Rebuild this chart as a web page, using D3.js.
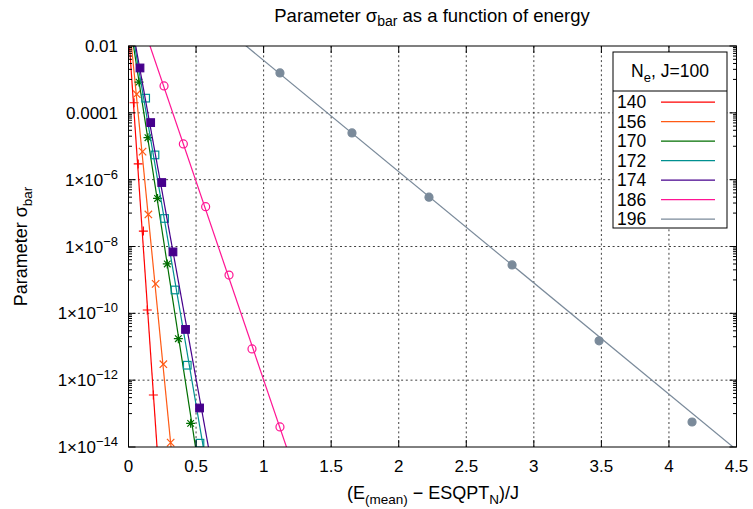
<!DOCTYPE html>
<html>
<head>
<meta charset="utf-8">
<script src="https://cdn.jsdelivr.net/npm/d3@7"></script>
<style>
  body { margin: 0; background: #fff; }
  text { font-family: "Liberation Sans", Arial, Helvetica, sans-serif; fill: #000; }
</style>
</head>
<body>
<svg id="chart" width="753" height="509"></svg>
<script>
// Series: number of bosons N_e (J = 100)
const seriesLabels = ["140", "156", "170", "172", "174", "186", "196"];
const seriesColors = ["#ff0000", "#ff5a14", "#006e00", "#009090", "#46008c", "#ff1493", "#7a8a9a"];
const seriesMarkers = ["plus", "cross", "star", "square", "squareFilled", "circle", "circleFilled"];

// (E_mean - ESQPT_N)/J and sigma_bar for each series
const energy140 = [0.041, 0.072, 0.110, 0.139, 0.184];
const sigma140  = [2.0e-4, 2.95e-6, 2.9e-8, 1.26e-10, 3.6e-13];
const energy156 = [0.061, 0.104, 0.147, 0.201, 0.258, 0.312];
const sigma156  = [3.6e-4, 6.9e-6, 9.1e-8, 7.6e-10, 3.0e-12, 1.35e-14];
const energy170 = [0.078, 0.144, 0.215, 0.287, 0.369, 0.460];
const sigma170  = [8.3e-4, 1.8e-5, 2.75e-7, 3.0e-9, 1.74e-11, 5.1e-14];
const energy172 = [0.127, 0.196, 0.267, 0.344, 0.435, 0.529];
const sigma172  = [2.75e-4, 5.5e-6, 6.9e-8, 5.0e-10, 2.8e-12, 1.3e-14];
const energy174 = [0.085, 0.164, 0.246, 0.329, 0.422, 0.526];
const sigma174  = [2.2e-3, 5.1e-5, 8.2e-7, 6.9e-9, 3.3e-11, 1.47e-13];
const energy186 = [0.263, 0.406, 0.571, 0.744, 0.914, 1.121];
const sigma186  = [6.4e-4, 1.17e-5, 1.55e-7, 1.4e-9, 8.6e-12, 4.0e-14];
const energy196 = [1.121, 1.654, 2.224, 2.839, 3.483, 4.171];
const sigma196  = [1.56e-3, 2.5e-5, 3.0e-7, 2.8e-9, 1.5e-11, 5.6e-14];

// Exponential fits: log10(sigma) = intercept + slope * energy
const fitIntercept = [-1.56, -1.09, -1.03, -0.91, -0.81, -0.11, 0.90];
const fitSlope     = [-58.95, -41.0, -26.15, -23.65, -22.3, -11.88, -3.33];

// Axis ticks
const xTickValues = [0, 0.5, 1, 1.5, 2, 2.5, 3, 3.5, 4, 4.5];
const xTickLabels = ["0", "0.5", "1", "1.5", "2", "2.5", "3", "3.5", "4", "4.5"];
const yTickExponents = [-2, -4, -6, -8, -10, -12, -14];
const yTickPlain = {"-2": "0.01", "-4": "0.0001"};

const energySets = [energy140, energy156, energy170, energy172, energy174, energy186, energy196];
const sigmaSets  = [sigma140, sigma156, sigma170, sigma172, sigma174, sigma186, sigma196];

const svg = d3.select("#chart");
const plotLeft = 128.5, plotRight = 736.5, plotTop = 46, plotBottom = 447;

const x = d3.scaleLinear().domain([0, 4.5]).range([plotLeft, plotRight]);
const y = d3.scaleLog().domain([1e-14, 1e-2]).range([plotBottom, plotTop]);

// clip region for the plotted data
svg.append("defs").append("clipPath").attr("id", "plotArea")
  .append("rect").attr("x", plotLeft).attr("y", plotTop)
  .attr("width", plotRight - plotLeft).attr("height", plotBottom - plotTop);

// dotted grid at major ticks
const grid = svg.append("g").attr("stroke", "#000").attr("stroke-width", 1)
  .attr("stroke-dasharray", "2,2.7").attr("stroke-opacity", 0.75);
xTickValues.slice(1, -1).forEach(v => {
  grid.append("line").attr("x1", x(v)).attr("x2", x(v)).attr("y1", plotTop).attr("y2", plotBottom);
});
yTickExponents.slice(1, -1).forEach(e => {
  grid.append("line").attr("x1", plotLeft).attr("x2", plotRight)
    .attr("y1", y(Math.pow(10, e))).attr("y2", y(Math.pow(10, e)));
});

// fitted lines and data points
const plot = svg.append("g").attr("clip-path", "url(#plotArea)");
const line = d3.line().x(d => x(d[0])).y(d => y(d[1]));

function marker(g, type, cx, cy, color) {
  const s = 4.5;
  if (type === "plus") {
    g.append("path").attr("d", `M${cx - s},${cy}H${cx + s}M${cx},${cy - s}V${cy + s}`)
      .attr("stroke", color).attr("stroke-width", 1.2).attr("fill", "none");
  } else if (type === "cross") {
    const c = 3.7;
    g.append("path").attr("d", `M${cx - c},${cy - c}L${cx + c},${cy + c}M${cx - c},${cy + c}L${cx + c},${cy - c}`)
      .attr("stroke", color).attr("stroke-width", 1.2).attr("fill", "none");
  } else if (type === "star") {
    const c = 3.3;
    g.append("path").attr("d", `M${cx - s},${cy}H${cx + s}M${cx},${cy - s}V${cy + s}M${cx - c},${cy - c}L${cx + c},${cy + c}M${cx - c},${cy + c}L${cx + c},${cy - c}`)
      .attr("stroke", color).attr("stroke-width", 1.2).attr("fill", "none");
  } else if (type === "square" || type === "squareFilled") {
    const h = 3.8;
    g.append("rect").attr("x", cx - h).attr("y", cy - h).attr("width", 2 * h).attr("height", 2 * h)
      .attr("stroke", color).attr("stroke-width", 1.2)
      .attr("fill", type === "squareFilled" ? color : "none");
  } else {
    g.append("circle").attr("cx", cx).attr("cy", cy).attr("r", 4)
      .attr("stroke", color).attr("stroke-width", 1.2)
      .attr("fill", type === "circleFilled" ? color : "none");
  }
}

seriesLabels.forEach((lab, i) => {
  const a = fitIntercept[i], b = fitSlope[i];
  const fitPts = x.domain().map(e => [e, Math.pow(10, a + b * e)]);
  plot.append("path").attr("d", line(fitPts)).attr("fill", "none")
    .attr("stroke", seriesColors[i]).attr("stroke-width", 1.2);
  energySets[i].forEach((e, k) => {
    marker(plot, seriesMarkers[i], x(e), y(sigmaSets[i][k]), seriesColors[i]);
  });
});

// axes frame with inward ticks on all sides
const frame = svg.append("g").attr("stroke", "#000").attr("stroke-width", 1).attr("fill", "none");
frame.append("rect").attr("x", plotLeft).attr("y", plotTop)
  .attr("width", plotRight - plotLeft).attr("height", plotBottom - plotTop);
xTickValues.forEach(v => {
  frame.append("line").attr("x1", x(v)).attr("x2", x(v)).attr("y1", plotBottom).attr("y2", plotBottom - 7);
  frame.append("line").attr("x1", x(v)).attr("x2", x(v)).attr("y1", plotTop).attr("y2", plotTop + 7);
});
yTickExponents.forEach(e => {
  const yy = y(Math.pow(10, e));
  frame.append("line").attr("x1", plotLeft).attr("x2", plotLeft + 7).attr("y1", yy).attr("y2", yy);
  frame.append("line").attr("x1", plotRight).attr("x2", plotRight - 7).attr("y1", yy).attr("y2", yy);
  if (e > -14) {
    for (let k = 1; k <= 9; k++) {
      const ym = y(k * Math.pow(10, e - 1));
      frame.append("line").attr("x1", plotLeft).attr("x2", plotLeft + 3.5).attr("y1", ym).attr("y2", ym);
      frame.append("line").attr("x1", plotRight).attr("x2", plotRight - 3.5).attr("y1", ym).attr("y2", ym);
    }
  }
});

// x tick labels
svg.append("g").selectAll("text").data(xTickValues).join("text")
  .attr("x", d => x(d)).attr("y", 472).attr("text-anchor", "middle")
  .attr("font-size", 17).text((d, i) => xTickLabels[i]);

// y tick labels with exponents
yTickExponents.forEach(e => {
  const t = svg.append("text").attr("x", 118).attr("y", y(Math.pow(10, e)) + 6)
    .attr("text-anchor", "end").attr("font-size", 17);
  if (yTickPlain[e]) {
    t.text(yTickPlain[e]);
  } else {
    t.append("tspan").text("1×10");
    t.append("tspan").attr("dy", -7).attr("font-size", 13).text("−" + Math.abs(e));
  }
});

// title
const title = svg.append("text").attr("x", 432).attr("y", 22).attr("text-anchor", "middle").attr("font-size", 18.5);
title.append("tspan").text("Parameter σ");
title.append("tspan").attr("dy", 4).attr("font-size", 14).text("bar");
title.append("tspan").attr("dy", -4).text(" as a function of energy");

// x axis label
const xl = svg.append("text").attr("x", 433).attr("y", 499).attr("text-anchor", "middle").attr("font-size", 18);
xl.append("tspan").text("(E");
xl.append("tspan").attr("dy", 5).attr("font-size", 13.5).text("(mean)");
xl.append("tspan").attr("dy", -5).text(" − ESQPT");
xl.append("tspan").attr("dy", 5).attr("font-size", 13.5).text("N");
xl.append("tspan").attr("dy", -5).text(")/J");

// y axis label
const yl = svg.append("text").attr("transform", `translate(27,${(plotTop + plotBottom) / 2}) rotate(-90)`)
  .attr("text-anchor", "middle").attr("font-size", 18);
yl.append("tspan").text("Parameter σ");
yl.append("tspan").attr("dy", 5).attr("font-size", 13.5).text("bar");

// legend
const lg = svg.append("g");
const lx0 = 613, lx1 = 727, ly0 = 52, ly1 = 228, lsep = 91;
lg.append("rect").attr("x", lx0).attr("y", ly0).attr("width", lx1 - lx0).attr("height", ly1 - ly0)
  .attr("fill", "#fff").attr("stroke", "#000").attr("stroke-width", 1);
lg.append("line").attr("x1", lx0).attr("x2", lx1).attr("y1", lsep).attr("y2", lsep)
  .attr("stroke", "#000").attr("stroke-width", 1);
const head = lg.append("text").attr("x", (lx0 + lx1) / 2).attr("y", 77).attr("text-anchor", "middle").attr("font-size", 17.5);
head.append("tspan").text("N");
head.append("tspan").attr("dy", 5).attr("font-size", 13).text("e");
head.append("tspan").attr("dy", -5).text(", J=100");
seriesLabels.forEach((lab, i) => {
  const cy = 102.2 + i * 19.5;
  lg.append("text").attr("x", 617).attr("y", cy + 6).attr("font-size", 17.5).text(lab);
  lg.append("line").attr("x1", 661).attr("x2", 715).attr("y1", cy).attr("y2", cy)
    .attr("stroke", seriesColors[i]).attr("stroke-width", 1.2);
});
</script>
</body>
</html>
